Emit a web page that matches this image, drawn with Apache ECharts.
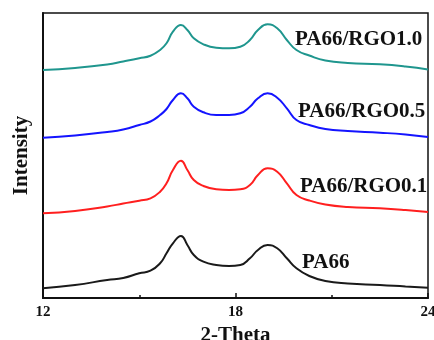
<!DOCTYPE html>
<html>
<head>
<meta charset="utf-8">
<script src="https://cdn.jsdelivr.net/npm/echarts@6/dist/echarts.min.js"></script>
<style>
  html, body { margin: 0; padding: 0; background: #fff; }
  #main { width: 434px; height: 340px; }
</style>
</head>
<body>
<div id="main"></div>
<script>
// 2-theta sample positions (degrees)
var theta = [12, 13, 14, 14.5, 15.0, 15.35, 15.65, 15.85, 16.05, 16.3, 16.5, 16.7, 17.0, 17.4, 17.8, 18.15, 18.45, 18.7, 19.0, 19.3, 19.6, 19.9, 20.3, 20.8, 21.5, 22.5, 23.3, 24];

// intensity (arbitrary units, traces offset vertically)
var pa66 = [9.7, 13, 18, 20, 24.7, 27.3, 34.7, 44.7, 54.7, 62, 53, 43, 36.3, 33, 32, 33, 39.7, 48, 53, 49.7, 39.7, 29.7, 22, 17, 14.5, 13, 11.5, 10.3];
var rgo01 = [84.7, 87, 91.5, 94.5, 97.3, 99.7, 106.3, 114.7, 128, 137.3, 128, 118, 112, 108.7, 108, 108.7, 113, 123, 129.7, 126.3, 114.7, 103, 97.5, 93.5, 91, 89.7, 88, 86];
var rgo05 = [160.3, 162.5, 166, 168.5, 173, 176.5, 183, 189, 198, 204.7, 199.7, 191.3, 185.7, 183, 183, 184.7, 191.3, 199.7, 204.7, 200.3, 189.7, 178, 173, 169, 167, 165.3, 163.5, 161];
var rgo10 = [228, 230, 233.5, 236.5, 239.7, 242.3, 248, 254.7, 266.3, 273, 268, 259.7, 253.7, 250.3, 249.7, 251.3, 258, 268, 273.7, 269.7, 258, 248, 242.5, 237.5, 235, 233.7, 231.5, 228.5];

var names = ["PA66", "PA66/RGO0.1", "PA66/RGO0.5", "PA66/RGO1.0"];
var colors = ["#1a1a1a", "#ff1f1f", "#1414ff", "#1f968e"];
var values = [pa66, rgo01, rgo05, rgo10];

function pairs(v) {
  var out = [];
  for (var i = 0; i < theta.length; i++) out.push([theta[i], v[i]]);
  return out;
}

var font = "'Liberation Serif', 'Times New Roman', serif";

var myChart = echarts.init(document.getElementById("main"));
var series = [];
for (var i = 0; i < names.length; i++) {
  series.push({
    name: names[i],
    type: "line",
    data: pairs(values[i]),
    smooth: 0.5,
    symbol: "none",
    lineStyle: { color: colors[i], width: 2 },
  });
}

// series labels placed beside the right-hand peak
function label(x, y, text) {
  return {
    type: "text", x: x, y: y,
    style: { text: text, font: "bold 21px " + font, fill: "#111", verticalAlign: "middle" },
  };
}

myChart.setOption({
  animation: false,
  grid: {
    left: 43, right: 6, top: 13, bottom: 42,
    outerBoundsMode: "none",
    show: true, borderColor: "#111", borderWidth: 1.5,
  },
  xAxis: {
    type: "value",
    min: 12, max: 24, interval: 6,
    name: "2-Theta",
    nameLocation: "middle",
    nameGap: 23,
    nameTextStyle: { fontFamily: font, fontWeight: "bold", fontSize: 21, color: "#111" },
    axisLine: { lineStyle: { color: "#111", width: 2 } },
    axisTick: { inside: true, length: 5, lineStyle: { color: "#111", width: 1.5 } },
    minorTick: { show: true, splitNumber: 2, length: 3, lineStyle: { color: "#111", width: 1.5 } },
    axisLabel: { fontFamily: font, fontWeight: "bold", fontSize: 15, color: "#111", margin: 7 },
    splitLine: { show: false },
  },
  yAxis: {
    type: "value",
    min: 0, max: 285,
    name: "Intensity",
    nameLocation: "middle",
    nameGap: 11,
    nameTextStyle: { fontFamily: font, fontWeight: "bold", fontSize: 21, color: "#111" },
    axisLine: { show: true, lineStyle: { color: "#111", width: 2 } },
    axisTick: { show: false },
    axisLabel: { show: false },
    splitLine: { show: false },
  },
  graphic: [
    label(295, 40, "PA66/RGO1.0"),
    label(298, 112, "PA66/RGO0.5"),
    label(300, 187, "PA66/RGO0.1"),
    label(302, 263, "PA66"),
  ],
  series: series,
});
</script>
</body>
</html>
